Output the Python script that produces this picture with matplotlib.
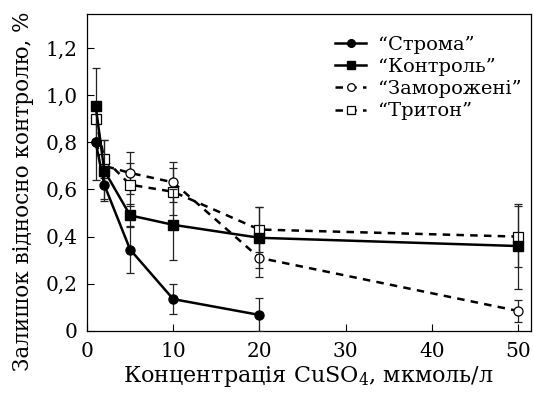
import matplotlib
matplotlib.use('Agg')
import matplotlib.pyplot as plt
from matplotlib.lines import Line2D

plt.rcParams['font.family'] = ['DejaVu Serif']
plt.rcParams['mathtext.fontset'] = 'dejavuserif'
plt.rcParams['mathtext.default'] = 'rm'

# concentrations, umol/l
conc_stroma = [1, 2, 5, 10, 20]
conc = [1, 2, 5, 10, 20, 50]

stroma = [0.80, 0.62, 0.345, 0.135, 0.068]
stroma_err = [0.16, 0.06, 0.10, 0.065, 0.07]

control = [0.955, 0.68, 0.49, 0.45, 0.395, 0.36]
control_err = [0.16, 0.13, 0.05, 0.15, 0.13, 0.18]

frozen = [0.80, 0.70, 0.67, 0.63, 0.31, 0.085]
frozen_err = [0.0, 0.03, 0.09, 0.085, 0.08, 0.045]

triton = [0.90, 0.73, 0.62, 0.59, 0.43, 0.40]
triton_err = [0.0, 0.08, 0.09, 0.10, 0.095, 0.13]

labels = ['\u201cСтрома\u201d', '\u201cКонтроль\u201d', '\u201cЗаморожені\u201d', '\u201cТритон\u201d']
dash = (0, (3.0, 2.5))

fig = plt.figure(figsize=(5.34, 3.94), dpi=100)
ax = fig.add_axes([0.163, 0.160, 0.831, 0.804])

ebkw = dict(ecolor='#222222', elinewidth=0.9, capsize=3, capthick=0.9)

ax.errorbar(conc_stroma, stroma, yerr=stroma_err, color='black', lw=1.8, ls='-',
            marker='o', ms=6.5, mfc='black', mec='black', zorder=3, **ebkw)
ax.errorbar(conc, control, yerr=control_err, color='black', lw=1.8, ls='-',
            marker='s', ms=6.5, mfc='black', mec='black', zorder=3, **ebkw)
ax.errorbar(conc, frozen, yerr=frozen_err, color='black', lw=1.8, ls=dash,
            marker='o', ms=6.5, mfc='white', mec='black', mew=0.9, zorder=2, **ebkw)
ax.errorbar(conc, triton, yerr=triton_err, color='black', lw=1.8, ls=dash,
            marker='s', ms=6.5, mfc='white', mec='black', mew=0.9, zorder=2, **ebkw)

ax.set_xlim(0, 51.5)
ax.set_ylim(0, 1.343)
ax.set_xticks([0, 10, 20, 30, 40, 50])
ax.set_yticks([0, 0.2, 0.4, 0.6, 0.8, 1.0, 1.2])
ax.set_yticklabels(['0', '0,2', '0,4', '0,6', '0,8', '1,0', '1,2'])
ax.tick_params(direction='in', length=5, width=0.8, labelsize=14.5)
ax.tick_params(axis='x', pad=8)
ax.tick_params(axis='y', pad=7)
for s in ax.spines.values():
    s.set_linewidth(0.9)

ax.set_xlabel('Концентрація CuSO$_4$, мкмоль/л', fontsize=16, labelpad=2)
ax.set_ylabel('Залишок відносно контролю, %', fontsize=15.5)
ax.yaxis.set_label_coords(-0.12, 0.44)

handles = [
    Line2D([], [], color='black', lw=1.8, ls='-', marker='o', ms=5.5, mfc='black'),
    Line2D([], [], color='black', lw=1.8, ls='-', marker='s', ms=5.5, mfc='black'),
    Line2D([], [], color='black', lw=1.8, ls=dash, marker='o', ms=5.5, mfc='white', mew=0.9),
    Line2D([], [], color='black', lw=1.8, ls=dash, marker='s', ms=5.5, mfc='white', mew=0.9),
]
ax.legend(handles, labels, loc='upper right', bbox_to_anchor=(1.027, 1.0), frameon=False,
          fontsize=14, handlelength=1.6, handletextpad=0.6, labelspacing=0.22,
          borderaxespad=0.7, borderpad=0.4)

fig.savefig('out.png', dpi=100)
